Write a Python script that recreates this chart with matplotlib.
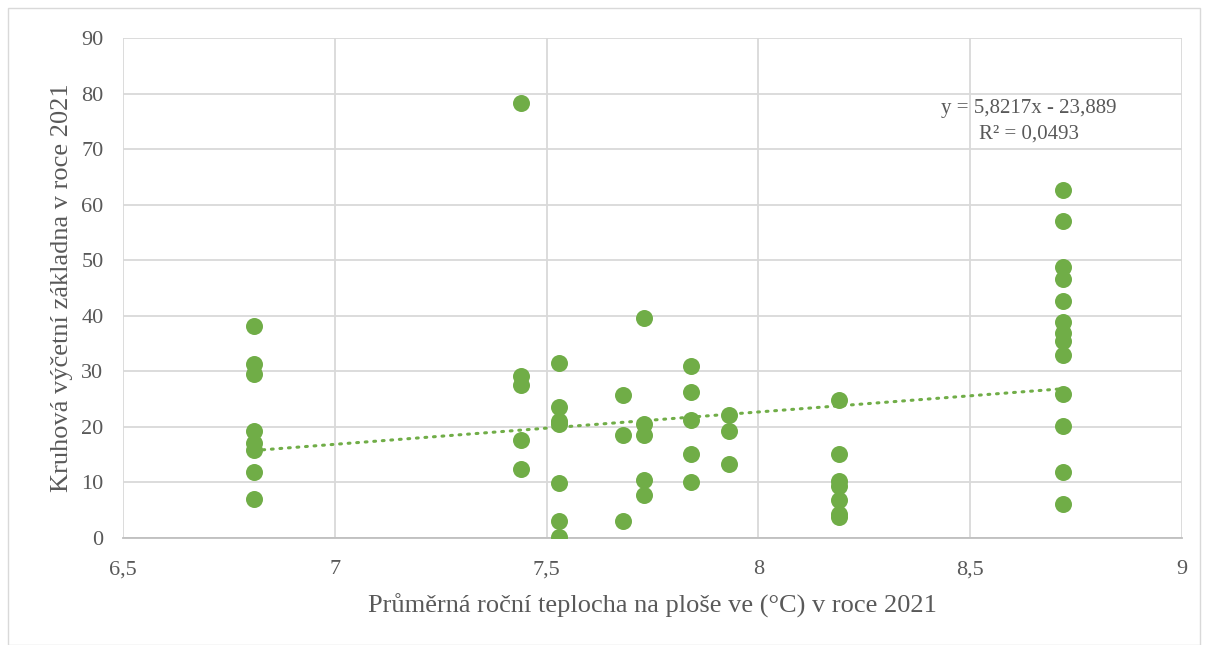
import matplotlib
matplotlib.use("Agg")
import matplotlib.pyplot as plt
import numpy as np

x_groups = [6.81, 7.44, 7.53, 7.68, 7.73, 7.84, 7.93, 8.19, 8.72]
y_groups = [
    [38.2, 31.3, 29.5, 19.3, 17.1, 15.8, 11.9, 7.0],
    [78.3, 29.2, 27.6, 17.7, 12.4],
    [31.5, 23.6, 21.0, 20.6, 9.9, 3.1, 0.1],
    [25.8, 18.5, 3.1],
    [39.6, 20.5, 18.5, 10.4, 7.8],
    [30.9, 26.2, 21.3, 15.2, 10.1],
    [22.1, 19.3, 13.4],
    [24.9, 15.2, 10.2, 9.3, 6.8, 4.3, 3.7],
    [62.7, 57.0, 48.8, 46.6, 42.7, 38.9, 36.9, 35.5, 32.9, 25.9, 20.2, 11.9, 6.2],
]
slope = 5.8217
intercept = -23.889
eq_text = "y = 5,8217x - 23,889\nR² = 0,0493"
x_ticks = [6.5, 7, 7.5, 8, 8.5, 9]
x_tick_labels = ["6,5", "7", "7,5", "8", "8,5", "9"]
y_ticks = list(range(0, 91, 10))

xs = np.concatenate([[xv] * len(ys) for xv, ys in zip(x_groups, y_groups)])
ys = np.concatenate(y_groups)

plt.rcParams['font.family'] = ['Liberation Serif', 'DejaVu Serif']
fig = plt.figure(figsize=(12.08, 6.45), dpi=100)
ax = fig.add_axes([123/1208, 1 - 538/645, (1182-123)/1208, (538-38)/645])

green = "#70ad47"
ax.scatter(xs, ys, s=150, color=green, zorder=3, linewidths=0)
xl = np.array([xs.min(), xs.max()])
ax.plot(xl, slope * xl + intercept, color=green, lw=2.2, ls=(0, (0.6, 2.2)),
        dash_capstyle='round', zorder=2)

ax.set_xlim(6.5, 9)
ax.set_ylim(0, 90)
ax.set_xticks(x_ticks)
ax.set_xticklabels(x_tick_labels)
ax.set_yticks(y_ticks)
ax.grid(True, color="#d9d9d9", lw=1.3, zorder=0)
ax.set_axisbelow(True)
for s in ["top", "right", "left"]:
    ax.spines[s].set_visible(False)
ax.spines["bottom"].set_color("#bfbfbf")
ax.spines["bottom"].set_linewidth(1.3)
ax.tick_params(length=0, labelsize=16, colors="#595959")
ax.tick_params(axis="x", pad=16)
ax.tick_params(axis="y", pad=14)

ax.set_xlabel("Průměrná roční teplocha na ploše ve (°C) v roce 2021", fontsize=19,
              color="#595959", labelpad=10)
ax.set_ylabel("Kruhová výčetní základna v roce 2021", fontsize=19,
              color="#595959", labelpad=6)

ax.text(8.639, 75.0, eq_text, ha="center", va="center", fontsize=15,
        color="#595959", linespacing=1.5, multialignment="center")

fig.add_artist(plt.Rectangle((8/1208, 0), 1 - 16/1208, 1 - 8/645,
               transform=fig.transFigure, fill=False, ec="#d9d9d9", lw=1))

fig.savefig("out.png", dpi=100)
